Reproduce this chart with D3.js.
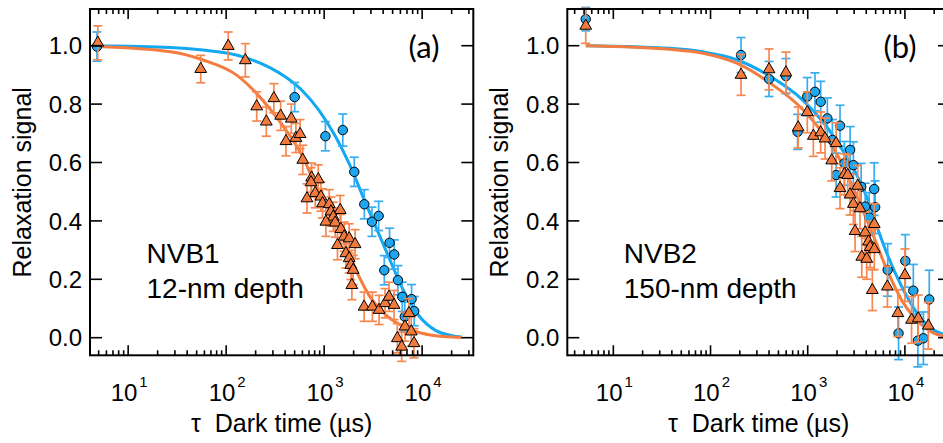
<!DOCTYPE html>
<html>
<head>
<meta charset="utf-8">
<script src="https://cdn.jsdelivr.net/npm/d3@7"></script>
<style>
  html, body { margin: 0; padding: 0; background: #fff; }
  svg { display: block; }
  text { font-family: "Liberation Sans", Arial, Helvetica, sans-serif; fill: #000; }
</style>
</head>
<body>
<svg id="chart" width="943" height="443"></svg>
<script>
// ---------- shared tick data ----------
const yTickValues = [0, 0.2, 0.4, 0.6, 0.8, 1.0];
const xDecades = [10, 100, 1000, 10000];
const xDecadeExponents = ["1", "2", "3", "4"];
const xAxisTitle = "\u03C4\u00A0\u00A0Dark time (\u00B5s)";
const yAxisTitle = "Relaxation signal";

// ---------- panel (a): NVB1 ----------
const aLabel = "(a)";
const aNameLines = ["NVB1", "12-nm depth"];
const aBlueTau = [4.8, 500, 1030, 1550, 2030, 2570, 3075, 3600, 4650, 4110, 5190, 5660, 6270, 7800, 8300, 6650];
const aBlueVal = [0.997, 0.824, 0.69, 0.711, 0.568, 0.457, 0.397, 0.417, 0.325, 0.231, 0.285, 0.197, 0.14, 0.132, 0.091, 0.072];
const aBlueErr = [0.05, 0.05, 0.05, 0.055, 0.05, 0.05, 0.05, 0.05, 0.05, 0.05, 0.05, 0.05, 0.05, 0.05, 0.05, 0.05];
const aOrangeTau = [4.9, 55, 105, 157, 205, 257, 307, 360, 408, 462, 515, 568, 605, 745, 871, 735, 811, 668, 927, 963,
  1127, 1173, 1458, 1240, 1042, 1297, 1483, 1601, 1800, 1368, 2070, 1667, 1800, 1873, 1978, 1918,
  2557, 3107, 3637, 4188, 4596, 5166, 5585, 6185, 6681, 7341, 7745, 8255];
const aOrangeVal = [1.01, 0.92, 0.999, 0.95, 0.792, 0.74, 0.82, 0.76, 0.673, 0.75, 0.684, 0.697, 0.609, 0.548, 0.542, 0.532, 0.495, 0.477, 0.483, 0.46,
  0.457, 0.432, 0.437, 0.414, 0.397, 0.394, 0.372, 0.346, 0.34, 0.317, 0.32, 0.289, 0.272, 0.249, 0.232, 0.18,
  0.106, 0.106, 0.095, 0.118, 0.14, 0.112, -0.002, -0.031, 0.038, 0.084, 0.021, -0.019];
const aOrangeErr = [0.058, 0.047, 0.048, 0.057, 0.05, 0.05, 0.05, 0.05, 0.05, 0.05, 0.05, 0.05, 0.05, 0.05, 0.05, 0.05, 0.05, 0.05, 0.05, 0.05,
  0.05, 0.05, 0.05, 0.05, 0.05, 0.05, 0.05, 0.05, 0.05, 0.05, 0.05, 0.05, 0.05, 0.05, 0.05, 0.05,
  0.05, 0.05, 0.05, 0.05, 0.05, 0.05, 0.05, 0.05, 0.05, 0.05, 0.05, 0.05];
const aBlueFitTau = [4.8, 27, 58, 127, 276, 408, 603, 890, 1310, 1800, 2660, 4255, 6280, 9270, 13700, 20200, 25300];
const aBlueFitVal = [1.0, 0.994, 0.985, 0.968, 0.926, 0.892, 0.845, 0.778, 0.688, 0.596, 0.46, 0.30, 0.17, 0.075, 0.025, 0.007, 0.002];
const aOrangeFitTau = [4.8, 27, 58, 127, 187, 276, 408, 603, 826, 1426, 2023, 2877, 4255, 6280, 9270, 13700, 20000, 25300];
const aOrangeFitVal = [0.997, 0.979, 0.951, 0.90, 0.85, 0.786, 0.711, 0.62, 0.517, 0.37, 0.245, 0.145, 0.078, 0.04, 0.018, 0.007, 0.002, 0.001];

// ---------- panel (b): NVB2 ----------
const bLabel = "(b)";
const bNameLines = ["NVB2", "150-nm depth"];
const bBlueTau = [5.2, 206, 400, 597, 787, 990, 1188, 1360, 1592, 2150, 1795, 1960, 2385, 2730, 2950, 3545, 3900, 4290, 4830, 4940,
  6650, 10100, 8600, 12200, 13600, 15500, 17800];
const bBlueVal = [1.091, 0.968, 0.886, 0.896, 0.705, 0.826, 0.842, 0.808, 0.751, 0.726, 0.677, 0.557, 0.597, 0.643, 0.591, 0.517, 0.449, 0.412, 0.509, 0.447,
  0.232, 0.263, 0.015, 0.161, -0.01, -0.002, 0.131];
const bBlueErr = [0.04, 0.06, 0.06, 0.06, 0.06, 0.065, 0.065, 0.07, 0.07, 0.07, 0.07, 0.075, 0.075, 0.08, 0.08, 0.08, 0.08, 0.085, 0.09, 0.09,
  0.09, 0.09, 0.09, 0.09, 0.09, 0.09, 0.1];
const bOrangeTau = [5.2, 206, 400, 597, 798, 990, 1143, 1360, 1507, 1960, 1765, 2150, 2385, 2580, 2730, 2950, 3265, 3450, 3070, 3900,
  4220, 4385, 3600, 4045, 4840, 4840, 4620, 6600, 8460, 10000, 11700, 13700, 17400];
const bOrangeVal = [1.068, 0.90, 0.919, 0.908, 0.72, 0.772, 0.691, 0.703, 0.682, 0.666, 0.607, 0.512, 0.56, 0.557, 0.49, 0.458, 0.52, 0.443, 0.365, 0.36,
  0.329, 0.31, 0.277, 0.27, 0.389, 0.303, 0.163, 0.175, 0.084, 0.214, 0.061, 0.066, 0.041];
const bOrangeErr = [0.06, 0.07, 0.07, 0.07, 0.07, 0.07, 0.07, 0.07, 0.07, 0.07, 0.07, 0.07, 0.07, 0.07, 0.07, 0.07, 0.07, 0.07, 0.07, 0.07,
  0.07, 0.07, 0.07, 0.07, 0.07, 0.07, 0.07, 0.07, 0.08, 0.09, 0.08, 0.08, 0.08];
const bBlueFitTau = [5.2, 38, 84, 186, 410, 900, 2000, 4400, 5300, 6500, 9600, 14300, 20000, 26000];
const bBlueFitVal = [1.0, 0.991, 0.979, 0.952, 0.895, 0.812, 0.672, 0.45, 0.37, 0.29, 0.165, 0.07, 0.025, 0.01];
const bOrangeFitTau = [5.2, 38, 84, 186, 410, 900, 2000, 4400, 6500, 9600, 14300, 20000, 26000];
const bOrangeFitVal = [1.0, 0.988, 0.974, 0.94, 0.872, 0.78, 0.628, 0.375, 0.235, 0.12, 0.05, 0.015, 0.005];

// ---------- styles ----------
const BLUE = "#1ea7ee", BLUE_LINE = "#12a8f2", BLUE_ERR = "#36adf0";
const ORANGE = "#f27a3c", ORANGE_LINE = "#f57c40", ORANGE_ERR = "#f7874e";

const svg = d3.select("#chart");

function zip(t, v, e) { return t.map((d, i) => ({ t: d, v: v[i], e: e ? e[i] : 0 })); }

function drawPanel(cfg) {
  const x = d3.scaleLog().domain(cfg.xDomain).range([cfg.left, cfg.right]);
  const y = d3.scaleLinear().domain([-0.0603, 1.1257]).range([355.3, 9]);
  const g = svg.append("g");

  // fits
  const line = d3.line().x(d => x(d.t)).y(d => y(d.v)).curve(d3.curveMonotoneX);
  const plot = g.append("g");
  plot.append("path").datum(zip(cfg.blueFitTau, cfg.blueFitVal))
    .attr("d", line).attr("fill", "none").attr("stroke", BLUE_LINE).attr("stroke-width", 3);
  plot.append("path").datum(zip(cfg.orangeFitTau, cfg.orangeFitVal))
    .attr("d", line).attr("fill", "none").attr("stroke", ORANGE_LINE).attr("stroke-width", 3);

  function errorBars(data, color) {
    const eb = plot.append("g").attr("stroke", color).attr("stroke-width", 1.7).attr("fill", "none");
    data.forEach(d => {
      const cx = x(d.t), y1 = y(d.v + d.e), y2 = y(d.v - d.e);
      eb.append("line").attr("x1", cx).attr("x2", cx).attr("y1", y1).attr("y2", y2);
      eb.append("line").attr("x1", cx - 4.5).attr("x2", cx + 4.5).attr("y1", y1).attr("y2", y1);
      eb.append("line").attr("x1", cx - 4.5).attr("x2", cx + 4.5).attr("y1", y2).attr("y2", y2);
    });
  }
  const blue = zip(cfg.blueTau, cfg.blueVal, cfg.blueErr);
  const orange = zip(cfg.orangeTau, cfg.orangeVal, cfg.orangeErr);

  errorBars(blue, BLUE_ERR);
  plot.append("g").selectAll("circle").data(blue).join("circle")
    .attr("cx", d => x(d.t)).attr("cy", d => y(d.v)).attr("r", 4.7)
    .attr("fill", BLUE).attr("stroke", "#000").attr("stroke-width", 1);

  errorBars(orange, ORANGE_ERR);
  const tri = d3.symbol().type(d3.symbolTriangle).size(60);
  plot.append("g").selectAll("path").data(orange).join("path")
    .attr("transform", d => `translate(${x(d.t)},${y(d.v)})`)
    .attr("d", tri)
    .attr("fill", ORANGE).attr("stroke", "#000").attr("stroke-width", 1);

  // frame
  g.append("rect").attr("x", cfg.left).attr("y", 9).attr("width", cfg.right - cfg.left).attr("height", 346.3)
    .attr("fill", "none").attr("stroke", "#000").attr("stroke-width", 2);

  // x ticks (bottom and top), major and minor
  const [d0, d1] = cfg.xDomain;
  const minor = [];
  for (let dec = 1; dec <= 10000; dec *= 10) {
    for (let k = 2; k <= 9; k++) { const v = k * dec; if (v > d0 && v < d1) minor.push(v); }
  }
  const tickG = g.append("g").attr("stroke", "#000").attr("stroke-width", 1.6);
  minor.forEach(v => {
    tickG.append("line").attr("x1", x(v)).attr("x2", x(v)).attr("y1", 355.3).attr("y2", 350.3);
    tickG.append("line").attr("x1", x(v)).attr("x2", x(v)).attr("y1", 9).attr("y2", 14);
  });
  xDecades.forEach(v => {
    tickG.append("line").attr("x1", x(v)).attr("x2", x(v)).attr("y1", 355.3).attr("y2", 345.3);
    tickG.append("line").attr("x1", x(v)).attr("x2", x(v)).attr("y1", 9).attr("y2", 19);
  });
  yTickValues.forEach(v => {
    tickG.append("line").attr("x1", cfg.left).attr("x2", cfg.left + 12).attr("y1", y(v)).attr("y2", y(v));
    tickG.append("line").attr("x1", cfg.right).attr("x2", cfg.right - 12).attr("y1", y(v)).attr("y2", y(v));
  });

  // y tick labels
  g.append("g").selectAll("text").data(yTickValues).join("text")
    .attr("x", cfg.left - 8).attr("y", d => y(d)).attr("dy", "0.36em")
    .attr("text-anchor", "end").attr("font-size", 24)
    .text(d => d3.format(".1f")(d));

  // x tick labels with superscripts
  xDecades.forEach((v, i) => {
    const t = g.append("text").attr("x", x(v) + 1).attr("y", 400.7)
      .attr("text-anchor", "middle").attr("font-size", 24);
    t.append("tspan").text("10");
    t.append("tspan").attr("font-size", 15).attr("dy", -14).attr("dx", 2).text(xDecadeExponents[i]);
  });

  // axis titles
  g.append("text").attr("x", (cfg.left + cfg.right) / 2).attr("y", 431.5)
    .attr("text-anchor", "middle").attr("font-size", 25).text(xAxisTitle);
  g.append("text").attr("transform", `translate(${cfg.left - 59},182.3) rotate(-90)`)
    .attr("text-anchor", "middle").attr("font-size", 25).text(yAxisTitle);

  // panel label
  g.append("text").attr("x", cfg.left + cfg.labelDx).attr("y", 57.7)
    .attr("text-anchor", "middle").attr("font-size", 31)
    .style("font-family", "Lato, 'Open Sans', sans-serif").text(cfg.label);

  // sample name
  cfg.nameLines.forEach((s, i) => {
    g.append("text").attr("x", cfg.left + 56.5).attr("y", 262.7 + i * 35)
      .attr("font-size", 28).text(s);
  });
}

drawPanel({
  id: "a", left: 90, right: 473.3, xDomain: [4.08, 33270], labelDx: 334,
  label: aLabel, nameLines: aNameLines,
  blueTau: aBlueTau, blueVal: aBlueVal, blueErr: aBlueErr,
  orangeTau: aOrangeTau, orangeVal: aOrangeVal, orangeErr: aOrangeErr,
  blueFitTau: aBlueFitTau, blueFitVal: aBlueFitVal,
  orangeFitTau: aOrangeFitTau, orangeFitVal: aOrangeFitVal
});
drawPanel({
  id: "b", left: 567.3, right: 950, xDomain: [3.36, 29100], labelDx: 332.7,
  label: bLabel, nameLines: bNameLines,
  blueTau: bBlueTau, blueVal: bBlueVal, blueErr: bBlueErr,
  orangeTau: bOrangeTau, orangeVal: bOrangeVal, orangeErr: bOrangeErr,
  blueFitTau: bBlueFitTau, blueFitVal: bBlueFitVal,
  orangeFitTau: bOrangeFitTau, orangeFitVal: bOrangeFitVal
});
</script>
</body>
</html>
